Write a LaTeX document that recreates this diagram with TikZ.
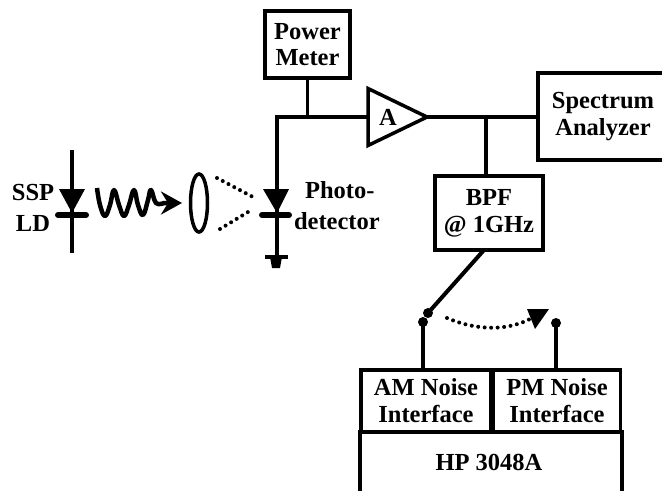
\documentclass[tikz,border=0pt]{standalone}
\usepackage{fontspec}
\setmainfont{Liberation Serif}
\usetikzlibrary{arrows.meta,shapes.geometric}
\begin{document}
\begin{tikzpicture} [x=1pt, y=-1pt, line width=3.5pt,
every node/.style = {align=center, font=\fontsize{24.5}{27}\selectfont\bfseries},
blockbox/.style = {draw, minimum width=#1, inner sep=0pt},
diodehead/.style = {fill=black, draw=none},
pinbar/.style = {line width=6pt, line cap=round},
ray/.style = {line width=4pt, dash pattern=on 0pt off 6.5pt, line cap=round}]
\useasboundingbox (0,0) rectangle (662,491);
\node (meter) [blockbox=85, minimum height=67] at (307.5,44.5) {Power\\[-1pt]Meter};
\node (analyzer) [blockbox=130, minimum height=87] at (603,116.5) {Spectrum\\Analyzer};
\node (bpf) [blockbox=108, minimum height=74] at (489,213) {BPF\\@ 1GHz};
\node (am) [blockbox=130, minimum height=62] at (426,401) {AM Noise\\Interface};
\node (pm) [blockbox=127, minimum height=62] at (557,401) {PM Noise\\Interface};
\node (hp) at (489,462) {HP 3048A};
\node (amp) [draw, isosceles triangle, isosceles triangle stretches, minimum width=57, minimum height=59,
inner sep=0pt, outer sep=0pt, anchor=lower side] at (368,117) {};
\node (ampname) at (388,117) {A};
\node (ssp) at (33,193) {SSP};
\node (ld) at (33,223) {LD};
\node (photo) [anchor=west] at (300,190) {Photo-};
\node (detector) [anchor=west] at (289,221) {detector};
\coordinate (corner) at (277,117);
\coordinate (meterjoin) at (meter.south |- corner);
\coordinate (bpfjoin) at (486,117);
\coordinate (ldtop) at (72,150);
\coordinate (ldbase) at (72,215);
\coordinate (ldend) at (72,253);
\coordinate (pdbase) at (277,215);
\coordinate (pdend) at (277,256);
\coordinate (swbpf) at (484,250);
\coordinate (swarm) at (428,313);
\coordinate (swam) at (423,322);
\coordinate (swpm) at (556,323);
\draw (amp.lower side) -- (corner) -- (ldbase -| corner) (meter.south) -- (meterjoin);
\draw (amp.apex) -- (analyzer.west |- amp.apex);
\draw (bpfjoin) -- (bpfjoin |- bpf.north);
\draw (ldtop) -- (ldend);
\draw (pdbase) -- (pdend);
\draw [diodehead] (59,189) -- (85,189) -- (72,213) -- cycle;
\draw [diodehead] (263,189) -- (289,189) -- (277,213) -- cycle;
\draw [pinbar] (58,215) -- (86,215);
\draw [pinbar] (262,215) -- (289,215);
\draw [line width=4.5pt] (265,257) -- (288,257);
\draw [diodehead] (270,257) -- (282,257) -- (280,268) -- (272,268) -- cycle;
\draw [line width=4.5pt, line join=round, -{Stealth[length=21pt, width=23pt, inset=7pt]}]
plot [smooth, tension=0.7] coordinates {(97,188) (100,205) (105,216) (110,205) (114,190) (119,205) (124,216) (129,205) (134,190) (138,205) (143,215) (148,200) (151,190) (156,203) (164,203)} -- (182,203);
\draw (199,203) ellipse [x radius=8.5, y radius=29];
\draw [ray] (217,178) -- (253,197);
\draw [ray] (220,229) -- (248,212);
\draw [line width=4pt] (swbpf) -- (swarm);
\fill (swarm) circle [radius=5];
\fill (swam) circle [radius=5];
\fill (swpm) circle [radius=5];
\draw (swam) -- (swam |- am.north);
\draw (swpm) -- (swpm |- pm.north);
\draw [ray] (447,318) .. controls (480,332) and (510,330) .. (532,318);
\draw [diodehead] (527,309) -- (549,309) -- (535,329) -- cycle;
\draw (360,491) -- (360,432) -- (622,432) -- (622,491);
\end{tikzpicture}
\end{document}
